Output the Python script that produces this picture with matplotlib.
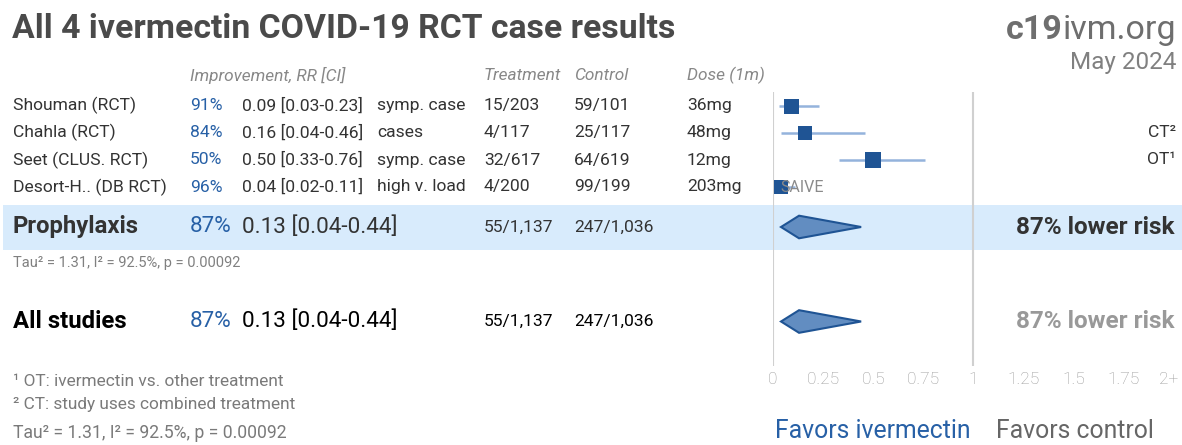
import matplotlib
matplotlib.use("Agg")
import matplotlib.pyplot as plt

plt.rcParams['font.family'] = ['Roboto', 'DejaVu Sans']

# ---------------- data ----------------
title = "All 4 ivermectin COVID-19 RCT case results"
studies = ["Shouman (RCT)", "Chahla (RCT)", "Seet (CLUS. RCT)", "Desort-H.. (DB RCT)"]
rr = [0.09, 0.16, 0.50, 0.04]
ci_lo = [0.03, 0.04, 0.33, 0.02]
ci_hi = [0.23, 0.46, 0.76, 0.11]
outcomes = ["symp. case", "cases", "symp. case", "high v. load"]
treatment = ["15/203", "4/117", "32/617", "4/200"]
control = ["59/101", "25/117", "64/619", "99/199"]
dose = ["36mg", "48mg", "12mg", "203mg"]
notes = ["", "CT²", "OT¹", ""]
study_tags = ["", "", "", "SAIVE"]

pooled_rr = 0.13
pooled_lo = 0.04
pooled_hi = 0.44
pooled_treat = "55/1,137"
pooled_ctrl = "247/1,036"
het_text = "Tau² = 1.31, I² = 92.5%, p = 0.00092"
summary_labels = ["Prophylaxis", "All studies"]

tick_vals = [0, 0.25, 0.5, 0.75, 1, 1.25, 1.5, 1.75, 2]
tick_labels = ["0", "0.25", "0.5", "0.75", "1", "1.25", "1.5", "1.75", "2+"]

footnotes = ["¹ OT: ivermectin vs. other treatment",
             "² CT: study uses combined treatment"]

# ---------------- style ----------------
W, H = 1182, 445
BLUE = "#2760a6"
DARK = "#333333"
GREY = "#888888"
sq_px = [15, 14, 16, 14]
row_y = [105.5, 132.5, 160, 187]
sum_y = [227, 321.5]

fig = plt.figure(figsize=(W / 100, H / 100), dpi=100)
ax = fig.add_axes([0, 0, 1, 1])
ax.set_xlim(0, W)
ax.set_ylim(H, 0)
ax.axis('off')

# forest axes: RR 0 at px 773, RR 2 at px 1173.6
fx0, fx2 = 773, 1173.6
fx = fig.add_axes([fx0 / W, 0, (fx2 - fx0) / W, 1])
fx.set_xlim(0, 2)
fx.set_ylim(H, 0)
fx.axis('off')
fx.patch.set_alpha(0)

# title & logo
ax.text(12, 29, title, fontsize=24.3, fontweight='bold', color='#4a4a4a',
        va='center', ha='left')
t_ivm = ax.text(1176, 30, "ivm.org", fontsize=24.5, color='#6e6e6e', va='center', ha='right')
fig.canvas.draw()
r = fig.canvas.get_renderer()
bb = t_ivm.get_window_extent(r)
x_left = ax.transData.inverted().transform((bb.x0, 0))[0]
ax.text(x_left, 30, "c19", fontsize=24.5, fontweight='bold', color='#6e6e6e',
        va='center', ha='right')
ax.text(1176, 63, "May 2024", fontsize=17.5, color='#808080', va='center', ha='right')

# headers
hy = 75
hdr = dict(fontsize=12.4, fontstyle='italic', color=GREY, va='center', ha='left')
ax.text(190, hy, "Improvement, RR [CI]", **hdr)
ax.text(484, hy, "Treatment", **hdr)
ax.text(574, hy, "Control", **hdr)
ax.text(687, hy, "Dose (1m)", **hdr)

# prophylaxis band
ax.add_patch(plt.Rectangle((3, 205), W - 3, 45, color='#d8ebfc', zorder=0, lw=0))

# vertical reference lines
fx.vlines([0, 1], 92, 366, color='#d0d0d0', lw=1.5, zorder=1)

# studies
fs = 12.6
for i, name in enumerate(studies):
    y = row_y[i]
    ax.text(13, y, name, fontsize=fs, color=DARK, va='center')
    ax.text(190, y, f"{round((1 - rr[i]) * 100)}%", fontsize=fs, color=BLUE, va='center')
    ax.text(242, y, f"{rr[i]:.2f} [{ci_lo[i]:.2f}-{ci_hi[i]:.2f}]", fontsize=fs, color=DARK, va='center')
    ax.text(377, y, outcomes[i], fontsize=fs, color=DARK, va='center')
    ax.text(484, y, treatment[i], fontsize=fs, color=DARK, va='center')
    ax.text(574, y, control[i], fontsize=fs, color=DARK, va='center')
    ax.text(687, y, dose[i], fontsize=fs, color=DARK, va='center')
    if notes[i]:
        ax.text(1176, y, notes[i], fontsize=fs, color=DARK, va='center', ha='right')
    fx.plot([ci_lo[i], ci_hi[i]], [y, y], color='#94b3dc', lw=1.8, zorder=2,
            solid_capstyle='butt')
    fx.plot([rr[i]], [y], marker='s', ms=sq_px[i] * 0.72, color='#1f5494',
            mew=0, zorder=3)
    if study_tags[i]:
        fx.text(ci_lo[i] + 0.015, y, study_tags[i], fontsize=11.5, color='#8a8a8a',
                va='center', ha='left', zorder=4)

# summaries
for k, lab in enumerate(summary_labels):
    y = sum_y[k]
    col = DARK if k == 0 else 'black'
    ax.text(13, y, lab, fontsize=17.2, fontweight='bold', color=col, va='center')
    ax.text(190, y, f"{round((1 - pooled_rr) * 100)}%", fontsize=16.2, color=BLUE, va='center')
    ax.text(242, y, f"{pooled_rr:.2f} [{pooled_lo:.2f}-{pooled_hi:.2f}]", fontsize=16.2,
            color=col, va='center')
    ax.text(484, y, pooled_treat, fontsize=12.6, color=col, va='center')
    ax.text(574, y, pooled_ctrl, fontsize=12.6, color=col, va='center')
    ax.text(1174, y, f"{round((1 - pooled_rr) * 100)}% lower risk", fontsize=17.5,
            fontweight='bold', color=('#333333' if k == 0 else '#999999'),
            va='center', ha='right')
    h = 11.3
    fx.fill([pooled_lo, pooled_rr, pooled_hi, pooled_rr], [y, y - h, y, y + h],
            facecolor='#628dc1', edgecolor='#1f5494', lw=1.5, zorder=3)

ax.text(13, 263, het_text, fontsize=10.5, color='#808080', va='center')

# tick labels
for v, lab in zip(tick_vals, tick_labels):
    xv = v if lab != "2+" else v - 0.027
    fx.text(xv, 379, lab, fontsize=12.5, color='#9a9a9a', va='center', ha='center',
            fontweight='light')

# footnotes
ax.text(13, 381, footnotes[0], fontsize=12.4, color='#7a7a7a', va='center')
ax.text(13, 404, footnotes[1], fontsize=12.4, color='#7a7a7a', va='center')
ax.text(13, 433, het_text, fontsize=12.7, color='#7a7a7a', va='center')

# favors
ax.text(873, 431, "Favors ivermectin", fontsize=17.8, color=BLUE, va='center', ha='center')
ax.text(1075, 431, "Favors control", fontsize=17.8, color='#666666', va='center', ha='center')

fig.savefig("out.png", dpi=100)
